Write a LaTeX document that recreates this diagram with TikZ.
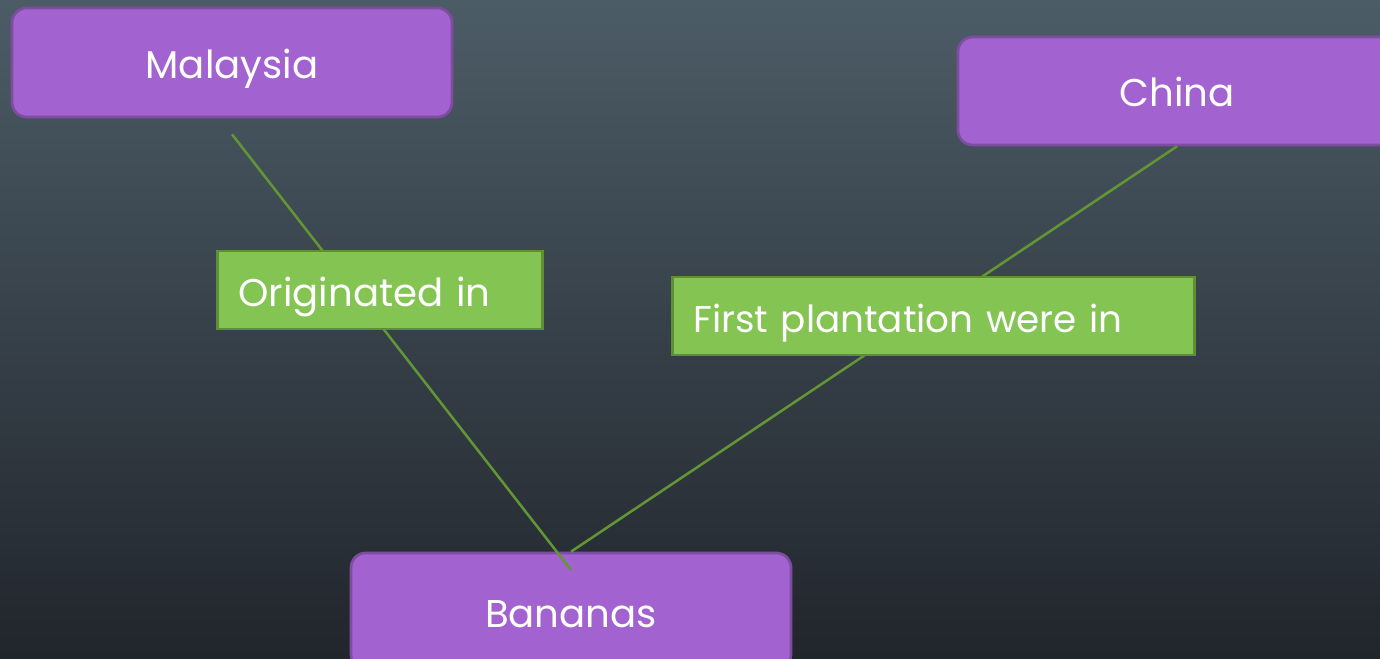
\documentclass[tikz,border=0pt]{standalone}
\usepackage{fontspec}
\setmainfont{Poppins}
\usetikzlibrary{positioning}
\definecolor{bgtop}{RGB}{76,92,102}
\definecolor{bgbottom}{RGB}{33,37,44}
\definecolor{conceptfill}{RGB}{162,99,208}
\definecolor{conceptline}{RGB}{125,78,160}
\definecolor{labelfill}{RGB}{132,196,82}
\definecolor{labelline}{RGB}{94,143,54}
\definecolor{linkcolor}{RGB}{98,150,52}
\newcommand\conceptfont{\fontsize{29pt}{33pt}\selectfont}
\tikzstyle{concept} = [rectangle, rounded corners=11pt, draw=conceptline, line width=2pt, fill=conceptfill, text=white, font=\conceptfont, inner sep=0pt, text height=24pt, text depth=0pt]
\tikzstyle{relation} = [rectangle, draw=labelline, line width=2pt, fill=labelfill, text=white, font=\conceptfont, align=left, inner xsep=15.75pt, inner ysep=0pt, minimum height=58.5pt, text height=24pt, text depth=0pt]
\tikzstyle{link} = [draw=linkcolor, line width=1.9pt]

\begin{document}
\begin{tikzpicture}[x=0.75pt, y=-0.75pt]
	    \shade[top color=bgtop, bottom color=bgbottom] (0,0) rectangle (1380,659);
	    \useasboundingbox (0,0) rectangle (1380,659);

	    \node[concept, minimum width=330pt, minimum height=81.75pt] (malaysia) at (232,62.5) {Malaysia};
	    \node[concept, minimum width=328.5pt, minimum height=81pt] (china) at (1177,91) {China};
	    \node[concept, minimum width=330pt, minimum height=87pt] (bananas) at (571,611) {Bananas};

	    \coordinate[below=12pt of malaysia.south] (start);
	    \coordinate[above=30.75pt of bananas.center] (stop);
	    \draw[link] (start) -- (stop);
	    \draw[link] (china.south) -- (bananas.north);

	    \node[relation, text width=212.25pt, anchor=west] (origin) at (216,290) {Originated in};
	    \node[relation, text width=360pt, anchor=west, font=\fontsize{28pt}{32pt}\selectfont] (plantation) at (671,316) {First plantation were in};
	\end{tikzpicture}
\end{document}
